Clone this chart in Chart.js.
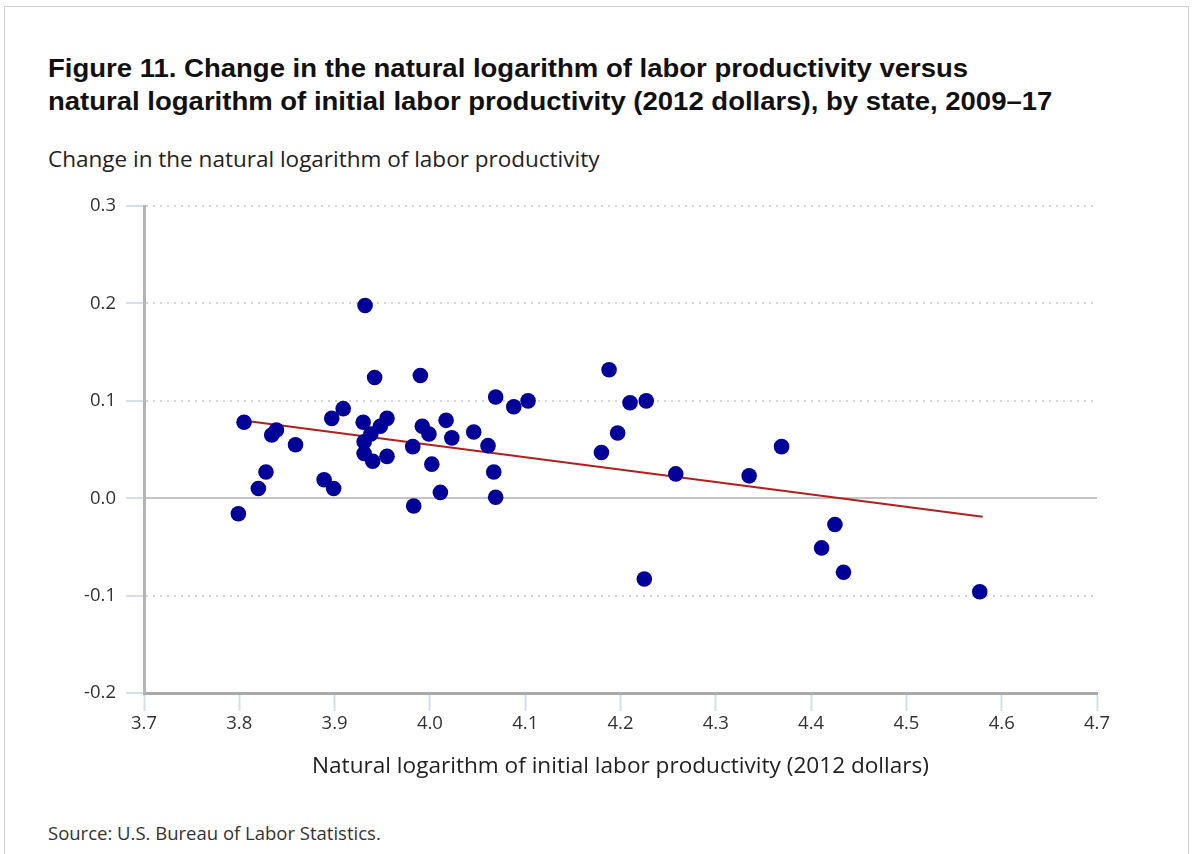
<!DOCTYPE html>
<html>
<head>
<meta charset="utf-8">
<script src="https://cdn.jsdelivr.net/npm/chart.js@4"></script>
<style>
    body { margin: 0; background: #fff; width: 1200px; height: 854px; position: relative; overflow: hidden; }
    #frame { position: absolute; left: 4px; top: 6px; width: 1183px; height: 900px; border: 1px solid #d0d0d0; }
    #title { position: absolute; left: 48px; top: 52px; font: bold 26px "Liberation Sans", Arial, sans-serif; line-height: 33px; color: #111; white-space: nowrap; transform: scaleX(1.058); transform-origin: left top; }
    #ytitle { position: absolute; left: 48px; top: 143px; font: 22.5px "Open Sans", sans-serif; color: #222; white-space: nowrap; }
    #source { position: absolute; left: 48px; top: 820px; font: 18.5px "Open Sans", sans-serif; color: #333; white-space: nowrap; }
    #wrap { position: absolute; left: 40px; top: 185px; width: 1080px; height: 626px; }
</style>
</head>
<body>
<div id="frame"></div>
<div id="title">Figure 11. Change in the natural logarithm of labor productivity versus<br>natural logarithm of initial labor productivity (2012 dollars), by state, 2009–17</div>
<div id="ytitle">Change in the natural logarithm of labor productivity</div>
<div id="source">Source: U.S. Bureau of Labor Statistics.</div>
<div id="wrap"><canvas id="chart"></canvas></div>
<script>
// initial labor productivity (ln) and change in ln, one per state
const initialLnProd = [
    3.799, 3.805, 3.820, 3.828, 3.834, 3.839, 3.859, 3.889, 3.899, 3.897,
    3.909, 3.932, 3.930, 3.931, 3.931, 3.940, 3.938, 3.948, 3.955, 3.955,
    3.942, 3.990, 3.982, 3.983, 3.992, 3.999, 4.002, 4.011, 4.017, 4.023,
    4.046, 4.061, 4.067, 4.069, 4.069, 4.088, 4.103, 4.180, 4.188, 4.197,
    4.210, 4.227, 4.225, 4.258, 4.335, 4.369, 4.411, 4.425, 4.434, 4.577
];
const changeLnProd = [
    -0.016, 0.078, 0.010, 0.027, 0.065, 0.070, 0.055, 0.019, 0.010, 0.082,
    0.092, 0.198, 0.078, 0.058, 0.046, 0.038, 0.066, 0.074, 0.082, 0.043,
    0.124, 0.126, 0.053, -0.008, 0.074, 0.066, 0.035, 0.006, 0.080, 0.062,
    0.068, 0.054, 0.027, 0.001, 0.104, 0.094, 0.100, 0.047, 0.132, 0.067,
    0.098, 0.100, -0.083, 0.025, 0.023, 0.053, -0.051, -0.027, -0.076, -0.096
];
// fitted trend line end points
const trendX = [3.81, 4.58];
const trendY = [0.079, -0.019];

const fontFamily = '"Open Sans", sans-serif';

const points = initialLnProd.map((x, i) => ({ x: x, y: changeLnProd[i] }));
const trend = trendX.map((x, i) => ({ x: x, y: trendY[i] }));

const ctx = document.getElementById('chart').getContext('2d');
new Chart(ctx, {
    type: 'scatter',
    data: {
        datasets: [
            {
                data: points,
                backgroundColor: '#000099',
                borderColor: '#000099',
                pointRadius: 7.8,
                pointHoverRadius: 7.8,
                borderWidth: 0,
                order: 1
            },
            {
                type: 'line',
                data: trend,
                borderColor: '#b21f1f',
                borderWidth: 2,
                pointRadius: 0,
                fill: false,
                order: 2
            }
        ]
    },
    options: {
        responsive: true,
        maintainAspectRatio: false,
        animation: false,
        layout: { padding: { top: 15, right: 23, left: 0, bottom: 0 } },
        plugins: {
            legend: { display: false },
            tooltip: { enabled: false }
        },
        scales: {
            x: {
                type: 'linear',
                min: 3.7,
                max: 4.7,
                afterFit: (scale) => { scale.height = 118; },
                ticks: {
                    stepSize: 0.1,
                    padding: 2,
                    color: '#333',
                    font: { family: fontFamily, size: 18.5 },
                    callback: (v) => v.toFixed(1)
                },
                grid: {
                    drawOnChartArea: false,
                    drawTicks: true,
                    tickLength: 18,
                    tickColor: '#d5deeb',
                    tickWidth: 2
                },
                border: { color: '#a9a9a9', width: 3 },
                title: {
                    display: true,
                    text: 'Natural logarithm of initial labor productivity (2012 dollars)',
                    color: '#222',
                    font: { family: fontFamily, size: 22.6 },
                    padding: { top: 0, bottom: 31 }
                }
            },
            y: {
                min: -0.2,
                max: 0.3,
                afterFit: (scale) => { scale.width = 104; },
                ticks: {
                    stepSize: 0.1,
                    padding: 10,
                    color: '#333',
                    font: { family: fontFamily, size: 18.5 },
                    callback: (v) => v.toFixed(1)
                },
                grid: {
                    color: (c) => c.tick && Math.abs(c.tick.value) < 1e-9 ? '#c4c4c4' : '#d4d4d4',
                    lineWidth: 2,
                    tickLength: 18,
                    tickColor: '#d5deeb',
                    tickWidth: 2
                },
                border: {
                    color: '#b4b4b4',
                    width: 3,
                    dash: (c) => c.tick && Math.abs(c.tick.value) < 1e-9 ? [] : [2, 5]
                }
            }
        }
    }
});
</script>
</body>
</html>
